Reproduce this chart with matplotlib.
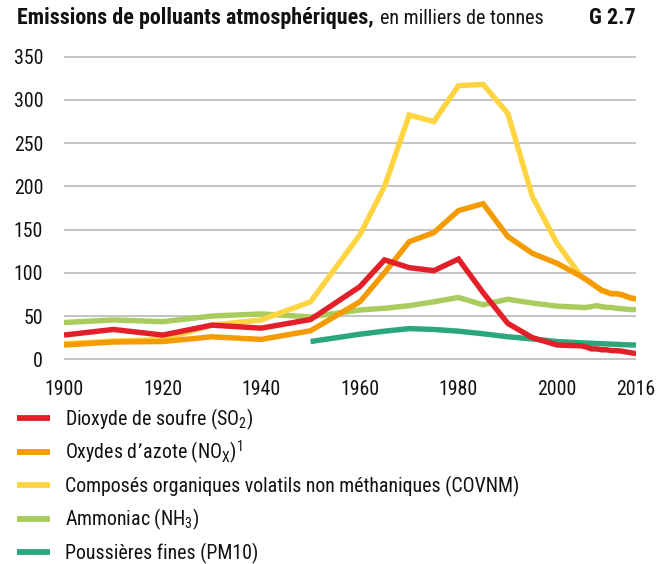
import numpy as np
import matplotlib
matplotlib.use("Agg")
import matplotlib.pyplot as plt
from matplotlib import font_manager as fm

avail = {}
for f in fm.fontManager.ttflist:
    avail.setdefault(f.name, set()).add(f.weight if isinstance(f.weight, int) else 400)

def pick(cands, need_bold=False):
    for c in cands:
        if c in avail:
            if not need_bold or any(w >= 600 for w in avail[c]):
                return c
    return 'DejaVu Sans'

main_font = pick(['Roboto Condensed', 'Liberation Sans Narrow', 'Archivo Narrow',
                  'Barlow Semi Condensed', 'Asap Condensed'])
bold_font = pick([main_font, 'Roboto Condensed', 'Liberation Sans Narrow',
                  'Barlow Semi Condensed', 'Asap Condensed'], need_bold=True)
plt.rcParams['font.family'] = [main_font, 'DejaVu Sans']
plt.rcParams['mathtext.default'] = 'regular'

years = [1900, 1910, 1920, 1930, 1940, 1950, 1960, 1965, 1970, 1975, 1980, 1985,
         1990, 1995, 2000, 2005, 2006, 2007, 2008, 2009, 2010, 2011, 2012, 2013,
         2014, 2015, 2016]

so2 = [28, 34.5, 28, 39.5, 36, 46, 84, 115, 106, 102.5, 116, 77,
       41.5, 25, 16.5, 15.5, 14, 12, 12, 11, 11, 10, 10, 9.5, 8.5, 7.5, 6.5]
nox = [16.5, 20, 20.5, 26, 23, 33, 66.5, 100, 136, 146.5, 172, 180,
       142, 122.5, 111, 95.5, 92, 88, 84, 80, 78, 76, 76, 75, 73, 71, 70]
covnm = [18, 21, 23, 39.5, 45.5, 66.5, 144, 200, 282.5, 275, 316.5, 318,
         284.5, 188, 134, 95, 91.5, 87.5, 83.5, 79.5, 77.5, 75.5, 75.5, 74.5, 72.5, 70.5, 69.5]
nh3 = [42.5, 45.5, 43.5, 50, 52.5, 49, 57, 59, 62, 66.5, 71.5, 63,
       69.5, 65, 61.5, 60, 60, 61, 62, 61, 60, 60, 59, 58.5, 58, 57.5, 57.5]
pm10 = [np.nan, np.nan, np.nan, np.nan, np.nan, 20.5, 29, 32.5, 35.5, 34.5, 32.5, 29.5,
        26, 23.5, 20.5, 19, 18.8, 18.5, 18.2, 18, 17.8, 17.5, 17.3, 17, 16.8, 16.6, 16.5]

labels = [r'Dioxyde de soufre (SO$_2$)',
          r"Oxydes d’azote (NO$_X$)$^1$",
          'Composés organiques volatils non méthaniques (COVNM)',
          r'Ammoniac (NH$_3$)',
          'Poussières fines (PM10)']
colors = ['#e31f2a', '#f39b00', '#ffd441', '#a8cc5e', '#2ba77c']
series = [so2, nox, covnm, nh3, pm10]
zorders = [6, 5, 4, 3, 4.5]

yticks = [0, 50, 100, 150, 200, 250, 300, 350]
xticks = [1900, 1920, 1940, 1960, 1980, 2000, 2016]

W, H = 659, 564
fig = plt.figure(figsize=(W / 100, H / 100), dpi=100)
ax = fig.add_axes([64 / W, 1 - 361 / H, 572 / W, 306 / H])

handles = []
for s, c, z, lab in zip(series, colors, zorders, labels):
    h, = ax.plot(years, s, color=c, lw=3.9, zorder=z, label=lab,
                 solid_joinstyle='miter', solid_capstyle='butt')
    handles.append(h)

ax.set_xlim(1900, 2016)
ax.set_ylim(-2, 352)
ax.set_yticks(yticks)
ax.set_xticks(xticks)
for sp in ax.spines.values():
    sp.set_visible(False)
ax.grid(axis='y', color='#b4b4b4', lw=1.1)
ax.set_axisbelow(True)

fig.canvas.draw()
renderer = fig.canvas.get_renderer()

# fit main font size so the longest legend label spans like the original (~457 px)
probe = fig.text(0, 0, labels[2], fontsize=15)
w = probe.get_window_extent(renderer).width
probe.remove()
fs = 15 * 457 / w
fs = min(max(fs, 11), 17)

ax.tick_params(length=0, labelsize=fs, colors='#111111')
ax.tick_params(axis='y', pad=15)
ax.tick_params(axis='x', pad=14)

# title
tb = fig.text(17 / W, 1 - 18 / H, 'Emissions de polluants atmosphériques,', fontsize=13,
              fontweight='bold', family=[bold_font, 'DejaVu Sans'], va='center', ha='left',
              color='#111111')
wb = tb.get_window_extent(renderer).width
tb.set_fontsize(13 * 353 / wb)
fig.canvas.draw()
tr = fig.text(380 / W, 1 - 18 / H, 'en milliers de tonnes', fontsize=13,
              va='center', ha='left', color='#111111')
wr = tr.get_window_extent(renderer).width
tr.set_fontsize(13 * 163 / wr)
fig.text(636 / W, 1 - 18 / H, 'G 2.7', fontsize=tb.get_fontsize(), fontweight='bold',
         family=[bold_font, 'DejaVu Sans'], va='center', ha='right', color='#111111')

# legend: one row per entry at fixed positions
fs_px = fs * 100 / 72
row_y = [419, 452.5, 486, 519.5, 553]
for h, lab, y in zip(handles, labels, row_y):
    lg = fig.legend(handles=[h], labels=[lab], loc='center left',
                    bbox_to_anchor=(17 / W, 1 - y / H), frameon=False, fontsize=fs,
                    handlelength=33 / fs_px, handletextpad=15 / fs_px,
                    borderpad=0, borderaxespad=0)
    for txt in lg.get_texts():
        txt.set_color('#111111')
    for lh in lg.get_lines():
        lh.set_linewidth(4.2)

fig.savefig('out.png', dpi=100)
